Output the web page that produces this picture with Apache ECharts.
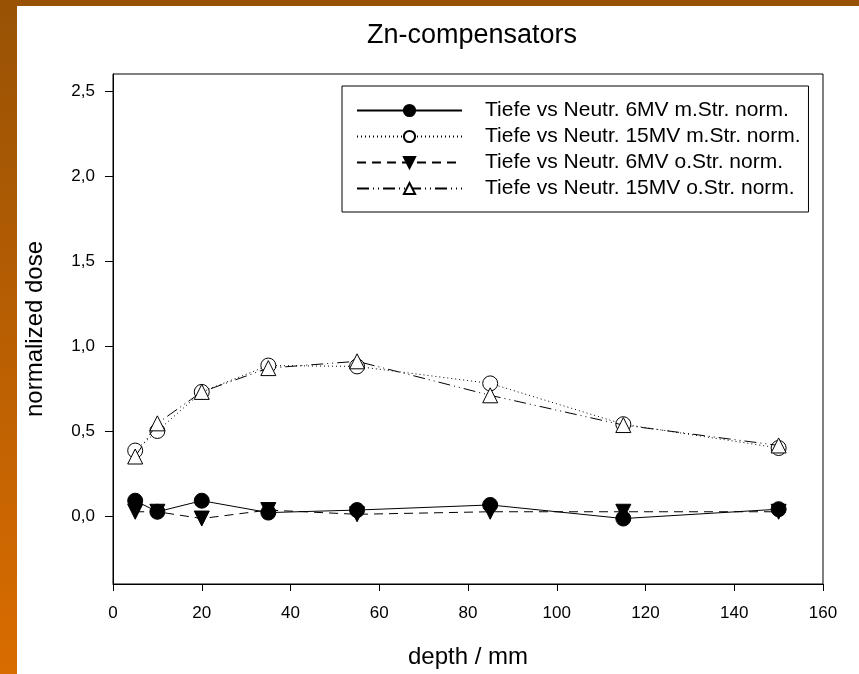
<!DOCTYPE html>
<html>
<head>
<meta charset="utf-8">
<script src="https://cdn.jsdelivr.net/npm/echarts@6/dist/echarts.min.js"></script>
<style>
html,body{margin:0;padding:0;background:#fff;}
#c{width:859px;height:674px;}
</style>
</head>
<body>
<div id="c"></div>
<script>
var depth = [5, 10, 20, 35, 55, 85, 115, 150];
var s6MVmStr  = [0.09, 0.025, 0.09, 0.02, 0.035, 0.065, -0.015, 0.04];
var s15MVmStr = [0.385, 0.50, 0.73, 0.885, 0.88, 0.78, 0.54, 0.40];
var s6MVoStr  = [0.025, 0.025, -0.015, 0.035, 0.01, 0.025, 0.025, 0.025];
var s15MVoStr = [0.35, 0.545, 0.73, 0.87, 0.91, 0.71, 0.535, 0.415];
var seriesNames = [
  'Tiefe vs Neutr. 6MV m.Str. norm.',
  'Tiefe vs Neutr. 15MV m.Str. norm.',
  'Tiefe vs Neutr. 6MV o.Str. norm.',
  'Tiefe vs Neutr. 15MV o.Str. norm.'
];
var yTicks = [0, 0.5, 1.0, 1.5, 2.0, 2.5];

function pairs(ys){ return depth.map(function(x,i){ return [x, ys[i]]; }); }

var font = 'Liberation Sans, Arial, sans-serif';
var chart = echarts.init(document.getElementById('c'), null, {renderer:'canvas'});
chart.setOption({
  backgroundColor: '#ffffff',
  animation: false,
  graphic: [
    {type:'rect', left:0, top:0, shape:{width:859, height:6}, style:{fill:'#985205'}, z:100},
    {type:'rect', left:0, top:0, shape:{width:17, height:674},
     style:{fill:new echarts.graphic.LinearGradient(0,0,0,1,[{offset:0,color:'#985205'},{offset:1,color:'#d96c00'}])}, z:100}
  ],
  title: {
    text: 'Zn-compensators', left: 467, top: 17, textAlign: 'center',
    textStyle: {fontFamily: font, fontSize: 27, fontWeight: 'normal', color: '#000'}
  },
  grid: {left:113, right:36, top:74, bottom:88, show:true, borderColor:'#000', borderWidth:1, backgroundColor:'transparent'},
  legend: {
    orient:'vertical', left:342, top:86,
    padding:[14, 8, 13, 14], itemGap:5,
    itemWidth:105, itemHeight:14,
    borderColor:'#000', borderWidth:1,
    data: seriesNames,
    textStyle:{fontFamily:font, fontSize:21, color:'#000', padding:[0,0,0,18]}
  },
  xAxis: {
    type:'value', min:0, max:160, interval:20,
    name:'depth / mm', nameLocation:'middle', nameGap:61,
    nameTextStyle:{fontFamily:font, fontSize:24, color:'#000'},
    axisLine:{show:true, onZero:false, lineStyle:{color:'#000', width:1}},
    axisTick:{show:true, inside:false, length:7, lineStyle:{color:'#000'}},
    axisLabel:{fontFamily:font, fontSize:17, color:'#000', margin:21},
    splitLine:{show:false}
  },
  yAxis: {
    type:'value', min:-0.4, max:2.6,
    name:'normalized dose', nameLocation:'middle', nameGap:66,
    nameTextStyle:{fontFamily:font, fontSize:24, color:'#000'},
    axisLine:{show:true, onZero:false, lineStyle:{color:'#000', width:1}},
    axisTick:{show:true, inside:false, length:8, customValues:yTicks, lineStyle:{color:'#000'}},
    axisLabel:{fontFamily:font, fontSize:17, color:'#000', margin:18, customValues:yTicks,
      formatter:function(v){ return v.toFixed(1).replace('.', ','); }},
    splitLine:{show:false}
  },
  series: [
    {name:seriesNames[0], type:'line', data:pairs(s6MVmStr), symbol:'circle', symbolSize:15,
     itemStyle:{color:'#000', borderColor:'#000', borderWidth:1}, lineStyle:{color:'#000', width:1, type:'solid'}, z:4},
    {name:seriesNames[1], type:'line', data:pairs(s15MVmStr), symbol:'circle', symbolSize:15,
     itemStyle:{color:'#fff', borderColor:'#000', borderWidth:1}, lineStyle:{color:'#000', width:1, type:[1,3]}, z:3},
    {name:seriesNames[2], type:'line', data:pairs(s6MVoStr), symbol:'triangle', symbolSize:15, symbolRotate:180,
     itemStyle:{color:'#000', borderColor:'#000', borderWidth:1}, lineStyle:{color:'#000', width:1, type:[9,6]}, z:3},
    {name:seriesNames[3], type:'line', data:pairs(s15MVoStr), symbol:'triangle', symbolSize:15,
     itemStyle:{color:'#fff', borderColor:'#000', borderWidth:1}, lineStyle:{color:'#000', width:1, type:[12,4,1,4,1,4]}, z:4}
  ]
});
</script>
</body>
</html>
